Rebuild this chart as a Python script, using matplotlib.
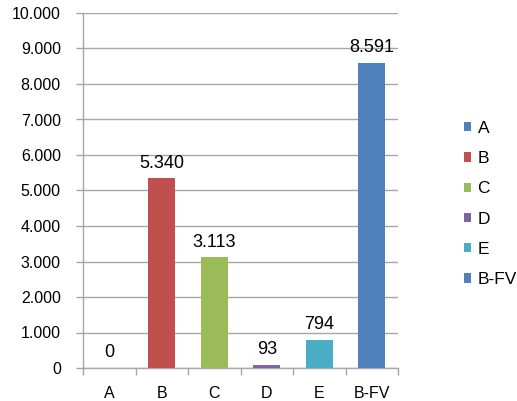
import matplotlib
matplotlib.use("Agg")
import matplotlib.pyplot as plt
from matplotlib.patches import Patch

categories = ["A", "B", "C", "D", "E", "B-FV"]
values = [0, 5340, 3113, 93, 794, 8591]
labels = ["0", "5.340", "3.113", "93", "794", "8.591"]
colors = ["#4F81BD", "#C0504D", "#9BBB59", "#8064A2", "#4BACC6", "#4F81BD"]
yticks = [0, 1000, 2000, 3000, 4000, 5000, 6000, 7000, 8000, 9000, 10000]
ytick_labels = ["0", "1.000", "2.000", "3.000", "4.000", "5.000", "6.000", "7.000", "8.000", "9.000", "10.000"]

plt.rcParams['font.family'] = ['Liberation Sans', 'DejaVu Sans']

fig = plt.figure(figsize=(5.17, 4.01), dpi=100)
ax = fig.add_axes([83/517, 1-368/401, (398-83)/517, (368-13)/401])

x = list(range(len(categories)))
bars = ax.bar(x, values, width=0.52, color=colors, zorder=3)
for xi, v, lab in zip(x, values, labels):
    ax.text(xi, v + 190, lab, ha="center", va="bottom", fontsize=13, color="black")

ax.set_xlim(-0.5, len(categories) - 0.5)
ax.set_ylim(0, 10000)
ax.set_yticks(yticks)
ax.set_yticklabels(ytick_labels, fontsize=11.5)
ax.yaxis.grid(True, color="#A6A6A6", linewidth=1, zorder=0)
ax.set_xticks(x)
ax.set_xticklabels(categories, fontsize=11.5)
ax.set_xticks([i - 0.5 for i in range(len(categories) + 1)], minor=True)
ax.tick_params(axis="x", which="major", length=0, pad=13)
ax.tick_params(axis="x", which="minor", length=5, color="#A6A6A6", width=1)
ax.tick_params(axis="y", length=5, color="#A6A6A6", width=1, pad=11)
for s in ["top", "right"]:
    ax.spines[s].set_visible(False)
for s in ["left", "bottom"]:
    ax.spines[s].set_color("#A6A6A6")
    ax.spines[s].set_linewidth(1)

handles = [Patch(facecolor=c, edgecolor="none") for c in colors]
fig.legend(handles, categories, loc="center left", bbox_to_anchor=(448/517, 1-204/401),
           frameon=False, fontsize=12.5, handlelength=0.45, handleheight=0.45,
           labelspacing=0.88, handletextpad=0.35)

fig.savefig("out.png", dpi=100)
